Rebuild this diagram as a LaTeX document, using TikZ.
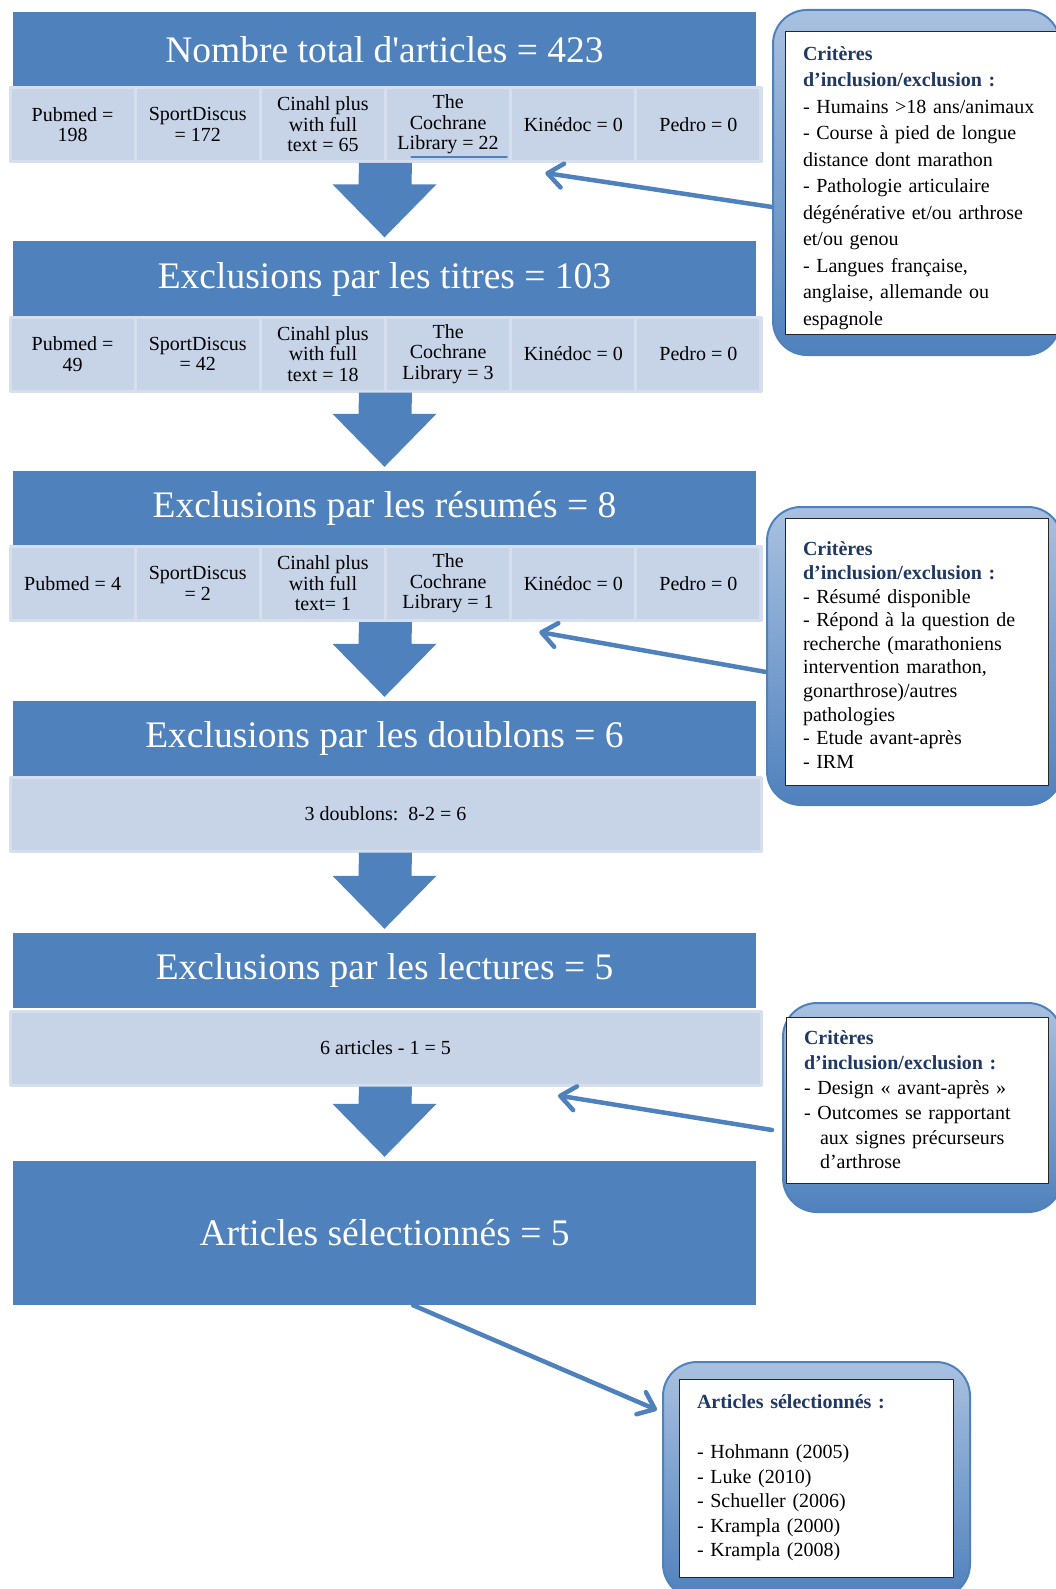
\documentclass[tikz,border=0pt]{standalone}
\usepackage{fontspec}
\setmainfont{Liberation Serif}[Ligatures=TeXOff]
\usetikzlibrary{calc,arrows.meta}
\definecolor{bleu}{HTML}{4F81BD}
\definecolor{bleuclair}{HTML}{C7D3E7}
\definecolor{bleutrait}{HTML}{D6DFEE}
\definecolor{bleuhaut}{HTML}{A9C1E0}
\definecolor{marine}{HTML}{1F3864}
\tikzset{
  titre/.style={fill=bleu, text=white, minimum width=743pt, minimum height=75pt, inner sep=0pt, font=\fontsize{37.5}{40}\selectfont},
  case/.style={fill=bleuclair, draw=bleutrait, line width=3pt, minimum width=125pt, minimum height=74pt, inner sep=0pt, align=center, font=\fontsize{20}{20.6}\selectfont},
  bande/.style={case, minimum width=751pt},
  cadre/.style={draw=bleu, line width=2pt, rounded corners=34pt, top color=bleuhaut, bottom color=bleu, inner sep=0pt},
  blanc/.style={draw=black!85, fill=white, line width=1pt, inner xsep=18pt, inner ysep=0pt, align=left, font=\fontsize{20}{#1}\selectfont},
  lien/.style={draw=bleu, line width=4.5pt, -{Straight Barb[length=15pt,width=24pt,round]}},
}
\newcommand{\crit}{{\bfseries\color{marine}Critères\\d’inclusion/exclusion :}}
\begin{document}
\begin{tikzpicture}[x=1pt, y=-1pt, line join=round, line cap=round]
\useasboundingbox (0,0) rectangle (1055,1589);
% etapes
\node[titre] (h1) at (384.5,49.5) {Nombre total d'articles = 423};
\node[titre] (h2) at (384.5,279) {Exclusions par les titres = 103};
\node[titre] (h3) at (384.5,508.5) {Exclusions par les résumés = 8};
\node[titre] (h4) at (384.5,738.5) {Exclusions par les doublons = 6};
\node[titre] (h5) at (384.5,970.5) {Exclusions par les lectures = 5};
\node[titre, minimum height=144pt] (h6) at (384.5,1233) {Articles sélectionnés = 5};
% bases de donnees
\node[bande] (s1) at (385.5,124.5) {};
\node[bande] (s2) at (385.5,354) {};
\node[bande] (s3) at (385.5,583.5) {};
\foreach \t [count=\i] in {{Pubmed =\\198},{SportDiscus\\= 172},{Cinahl plus\\with full\\text = 65},{The\\Cochrane\\Library = 22},{Kinédoc = 0},{Pedro = 0}}
  \node[case] (c1\i) at ({10+125.17*(\i-0.5)},124.5) {\t};
\foreach \t [count=\i] in {{Pubmed =\\49},{SportDiscus\\= 42},{Cinahl plus\\with full\\text = 18},{The\\Cochrane\\Library = 3},{Kinédoc = 0},{Pedro = 0}}
  \node[case] (c2\i) at ({10+125.17*(\i-0.5)},354) {\t};
\foreach \t [count=\i] in {{Pubmed = 4},{SportDiscus\\= 2},{Cinahl plus\\with full\\text= 1},{The\\Cochrane\\Library = 1},{Kinédoc = 0},{Pedro = 0}}
  \node[case] (c3\i) at ({10+125.17*(\i-0.5)},583.5) {\t};
\draw[bleu, line width=1.2pt] ($(c14.south west)+(27,-6)$) -- ($(c14.south east)+(-5,-6)$);
\node[bande] (s4) at (385.5,814) {3 doublons:~~8-2 = 6};
\node[bande] (s5) at (385.5,1048) {6 articles - 1 = 5};
% fleches
\foreach \a/\b in {s1/h2,s2/h3,s3/h4,s4/h5,s5/h6}
  \fill[bleu] ($(\a.south)+(-26.5,0)$) -- ($(\a.south)+(26.5,0)$) -- ($(\b.north)+(27,-57)$) -- ($(\b.north)+(52,-57)$)
    -- ($(\b.north)+(0,-4)$) -- ($(\b.north)+(-52,-57)$) -- ($(\b.north)+(-26,-57)$) -- cycle;
% criteres
\node[cadre, minimum width=287pt, minimum height=345pt] (b1) at (916.5,182.5) {};
\node[blanc=26.5, text width=264pt, minimum height=302pt] (i1) at (935,183) {\rule{0pt}{24pt}\crit\\
- Humains >18 ans/animaux\\
- Course à pied de longue\\
distance dont marathon\\
- Pathologie articulaire\\
dégénérative et/ou arthrose\\
et/ou genou\\
- Langues française,\\
anglaise, allemande ou\\
espagnole};
\node[cadre, minimum width=295pt, minimum height=298pt] (b2) at (914.5,656) {};
\node[blanc=23.6, text width=227pt, minimum height=267pt] (i2) at (916.5,651.5) {\rule{0pt}{21pt}\crit\\
- Résumé disponible\\
- Répond à la question de\\
recherche (marathoniens\\
intervention marathon,\\
gonarthrose)/autres\\
pathologies\\
- Etude avant-après\\
- IRM};
\node[cadre, minimum width=279pt, minimum height=209pt] (b3) at (922.5,1107.5) {};
\node[blanc=24.8, text width=226pt, minimum height=166pt] (i3) at (917,1100) {\crit\\
- Design « avant-après »\\
- Outcomes se rapportant\\
\hspace*{16pt}aux signes précurseurs\\
\hspace*{16pt}d’arthrose};
\node[cadre, minimum width=307pt, minimum height=236pt] (b4) at (816.5,1480) {};
\node[blanc=24.6, text width=238pt, minimum height=198pt] (i4) at (816,1478) {{\bfseries\color{marine}Articles sélectionnés :}\\[25pt]
- Hohmann (2005)\\
- Luke (2010)\\
- Schueller (2006)\\
- Krampla (2000)\\
- Krampla (2008)};
% liens
\draw[lien] ($(b1.west)+(0,24.5)$) -- ($(c15.south west)+(36,10)$);
\draw[lien] ($(b2.west)+(0,16)$) -- ($(c35.south west)+(30,10)$);
\draw[lien] ($(b3.west)+(-10,22.5)$) -- ($(s5.south)+(172.5,9)$);
\draw[lien] ($(h6.south)+(28.5,0)$) -- ($(b4.north west)+(-5,49)$);
\end{tikzpicture}
\end{document}
